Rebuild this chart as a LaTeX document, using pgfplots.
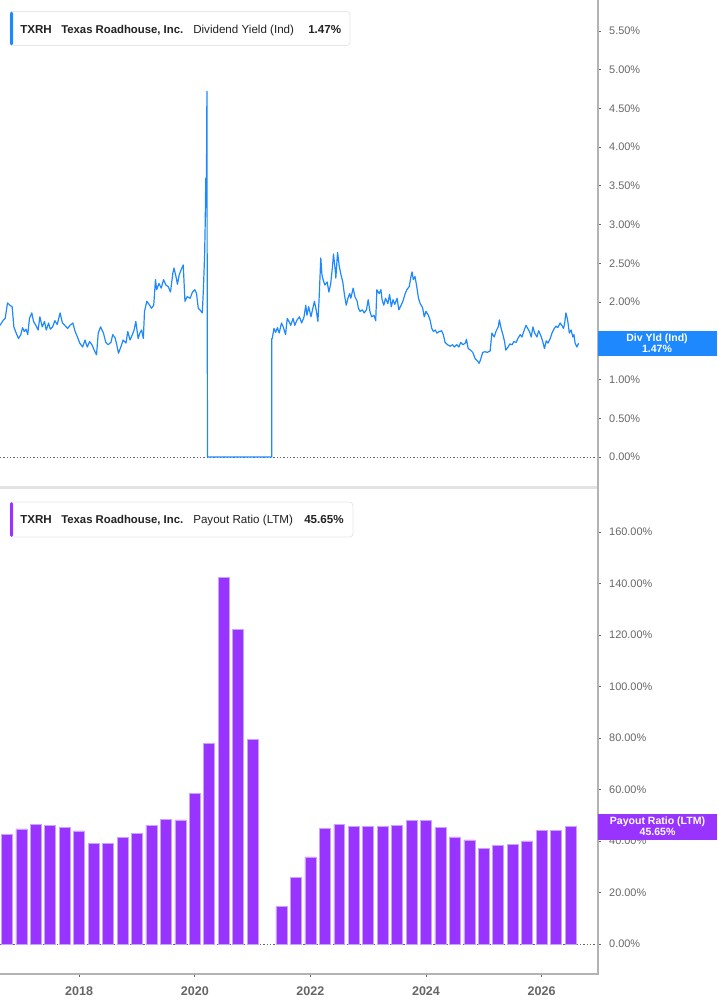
\documentclass[border=0pt]{standalone}
\usepackage{pgfplots}
\pgfplotsset{compat=1.18}
\usepackage{fontspec}
\setmainfont{Liberation Sans}

\definecolor{lineblue}{HTML}{1E88FF}
\definecolor{barpurple}{HTML}{9933FF}
\definecolor{baredge}{HTML}{C9A3FF}
\definecolor{axgrey}{HTML}{B3B3B3}
\definecolor{lblgrey}{HTML}{666666}
\definecolor{sepgrey}{HTML}{E3E3E3}
\definecolor{boxgrey}{HTML}{E6E6E6}
\definecolor{txt}{HTML}{222222}

\newcommand\tickfont{\fontsize{8.2}{9}\selectfont}
\newcommand\legfont{\fontsize{8.7}{10}\selectfont}
\newcommand\tagfont{\bfseries\fontsize{7.9}{8}\selectfont}

\tikzset{zerodots/.style={lblgrey, line width=0.7pt, dash pattern=on 0.9pt off 1.6pt}}

\pgfplotsset{
  panel/.style={
    scale only axis, width=448.5pt,
    xmin=2016.63, xmax=2026.976,
    axis line style={draw=none},
    tick align=outside, major tick length=2.2pt,
    tick style={lblgrey, line width=0.6pt},
    ytick pos=right, yticklabel pos=right,
    yticklabel style={font=\tickfont, text=lblgrey, inner sep=0pt, xshift=6pt},
    /pgf/number format/assume math mode=true,
  },
}

\begin{document}
\begin{tikzpicture}[x=0.75pt, y=0.75pt]
\useasboundingbox (0,0) rectangle (717,1005);

% top panel: dividend yield
\begin{axis}[panel,
  at={(0pt,753.75pt)}, anchor=north west, height=365.25pt,
  ymin=-0.387, ymax=5.9,
  xtick=\empty,
  ytick={0,0.5,1,1.5,2,2.5,3,3.5,4,4.5,5,5.5},
  yticklabel={\pgfmathprintnumber[fixed,fixed zerofill,precision=2]{\tick}\%},
]
\draw[zerodots] (axis cs:2016.63,0) -- (axis cs:2026.976,0);
\addplot[lineblue, line width=0.9pt, line join=round] coordinates {
(2016.63,1.70)(2016.69,1.77)(2016.72,1.79)(2016.76,1.99)(2016.80,1.96)(2016.84,1.94)(2016.87,1.68)(2016.91,1.60)
(2016.95,1.53)(2016.99,1.58)(2017.02,1.67)(2017.05,1.62)(2017.08,1.65)(2017.11,1.58)(2017.14,1.79)(2017.18,1.86)
(2017.21,1.75)(2017.25,1.70)(2017.29,1.64)(2017.32,1.81)(2017.36,1.68)(2017.40,1.75)(2017.43,1.64)(2017.47,1.73)
(2017.50,1.65)(2017.54,1.68)(2017.58,1.76)(2017.62,1.71)(2017.67,1.86)(2017.71,1.73)(2017.75,1.70)(2017.80,1.66)
(2017.84,1.70)(2017.89,1.73)(2017.93,1.62)(2017.97,1.55)(2018.01,1.47)(2018.06,1.42)(2018.10,1.51)(2018.14,1.42)
(2018.18,1.49)(2018.22,1.45)(2018.26,1.38)(2018.30,1.32)(2018.33,1.60)(2018.37,1.68)(2018.42,1.60)(2018.46,1.48)
(2018.50,1.45)(2018.55,1.48)(2018.58,1.58)(2018.62,1.54)(2018.65,1.45)(2018.68,1.34)(2018.72,1.42)(2018.76,1.51)
(2018.81,1.47)(2018.84,1.62)(2018.88,1.51)(2018.92,1.58)(2018.95,1.64)(2018.98,1.75)(2019.02,1.53)(2019.05,1.60)
(2019.08,1.64)(2019.11,1.53)(2019.13,1.88)(2019.17,2.01)(2019.21,1.97)(2019.25,1.92)(2019.29,1.96)(2019.32,2.29)
(2019.34,2.16)(2019.38,2.24)(2019.42,2.18)(2019.46,2.29)(2019.50,2.22)(2019.54,2.20)(2019.58,2.13)(2019.62,2.37)
(2019.64,2.44)(2019.68,2.31)(2019.70,2.23)(2019.73,2.35)(2019.76,2.41)(2019.80,2.48)(2019.83,2.01)(2019.87,2.07)
(2019.92,2.05)(2019.96,2.13)(2020.00,2.16)(2020.03,2.11)(2020.06,1.92)(2020.10,1.89)(2020.13,1.86)(2020.15,2.18)
(2020.17,2.61)(2020.18,3.00)(2020.19,3.60)(2020.20,3.30)(2020.21,4.72)(2020.215,2.00)(2020.22,0)(2021.33,0)
(2021.33,1.53)(2021.34,1.53)(2021.37,1.66)(2021.40,1.61)(2021.43,1.67)(2021.46,1.60)(2021.50,1.73)(2021.53,1.68)
(2021.57,1.58)(2021.60,1.79)(2021.63,1.75)(2021.66,1.70)(2021.70,1.79)(2021.73,1.70)(2021.77,1.77)(2021.81,1.81)
(2021.85,1.73)(2021.89,1.81)(2021.92,1.96)(2021.94,1.83)(2021.97,1.94)(2022.01,1.81)(2022.03,1.88)(2022.07,2.01)
(2022.10,1.90)(2022.13,1.75)(2022.15,2.03)(2022.18,2.57)(2022.20,2.35)(2022.22,2.29)(2022.25,2.22)(2022.29,2.26)
(2022.32,2.13)(2022.35,2.23)(2022.38,2.44)(2022.40,2.62)(2022.43,2.41)(2022.44,2.31)(2022.47,2.64)(2022.50,2.46)
(2022.53,2.35)(2022.56,2.26)(2022.59,2.09)(2022.62,1.96)(2022.65,2.05)(2022.68,2.11)(2022.70,2.05)(2022.74,2.18)
(2022.77,2.07)(2022.81,2.01)(2022.83,1.92)(2022.86,1.88)(2022.90,1.90)(2022.93,1.86)(2022.97,1.90)(2023.00,2.03)
(2023.03,1.88)(2023.06,1.81)(2023.10,1.83)(2023.13,1.76)(2023.15,2.16)(2023.19,2.11)(2023.22,2.16)(2023.24,2.03)
(2023.27,1.96)(2023.30,2.05)(2023.34,1.98)(2023.37,2.10)(2023.40,1.94)(2023.43,2.03)(2023.46,1.97)(2023.50,2.05)
(2023.53,1.90)(2023.57,1.96)(2023.60,2.01)(2023.64,2.11)(2023.67,2.16)(2023.71,2.20)(2023.74,2.33)(2023.76,2.39)
(2023.78,2.29)(2023.81,2.33)(2023.84,2.20)(2023.87,2.05)(2023.90,1.98)(2023.94,1.93)(2023.97,1.81)(2024.00,1.88)
(2024.04,1.83)(2024.07,1.77)(2024.10,1.66)(2024.13,1.62)(2024.16,1.64)(2024.19,1.60)(2024.23,1.62)(2024.27,1.63)
(2024.30,1.58)(2024.33,1.48)(2024.37,1.45)(2024.42,1.43)(2024.46,1.45)(2024.49,1.42)(2024.53,1.45)(2024.57,1.42)
(2024.60,1.48)(2024.64,1.45)(2024.68,1.47)(2024.70,1.52)(2024.73,1.40)(2024.77,1.38)(2024.81,1.35)(2024.85,1.27)
(2024.89,1.24)(2024.92,1.21)(2024.95,1.27)(2024.98,1.35)(2025.02,1.36)(2025.06,1.35)(2025.11,1.37)(2025.14,1.60)
(2025.18,1.55)(2025.21,1.62)(2025.25,1.68)(2025.27,1.77)(2025.30,1.66)(2025.33,1.58)(2025.36,1.49)(2025.38,1.38)
(2025.42,1.42)(2025.45,1.46)(2025.49,1.45)(2025.52,1.49)(2025.56,1.48)(2025.59,1.53)(2025.63,1.58)(2025.66,1.55)
(2025.70,1.64)(2025.73,1.70)(2025.76,1.66)(2025.79,1.62)(2025.82,1.55)(2025.85,1.68)(2025.88,1.60)(2025.92,1.55)
(2025.95,1.63)(2025.99,1.56)(2026.02,1.49)(2026.05,1.40)(2026.08,1.50)(2026.11,1.47)(2026.15,1.53)(2026.18,1.60)
(2026.22,1.66)(2026.25,1.69)(2026.28,1.67)(2026.32,1.73)(2026.35,1.70)(2026.38,1.66)(2026.40,1.73)(2026.42,1.86)
(2026.45,1.77)(2026.48,1.60)(2026.51,1.64)(2026.54,1.55)(2026.56,1.58)(2026.58,1.47)(2026.61,1.42)(2026.64,1.47)
};
\end{axis}

% bottom panel: payout ratio
\begin{axis}[panel,
  at={(0pt,387pt)}, anchor=north west, height=363.75pt,
  ymin=-11.65, ymax=176.7,
  xtick={2018,2020,2022,2024,2026},
  xticklabels={2018,2020,2022,2024,2026},
  xtick pos=bottom,
  xticklabel style={font=\bfseries\fontsize{9.4}{10}\selectfont, text=lblgrey, inner sep=0pt, yshift=-7pt},
  ytick={0,20,40,60,80,100,120,140,160},
  yticklabel={\pgfmathprintnumber[fixed,fixed zerofill,precision=2]{\tick}\%},
]
\draw[zerodots] (axis cs:2016.63,0) -- (axis cs:2026.976,0);
\addplot[ybar, bar width=0.19, fill=barpurple, draw=baredge, line width=0.45pt] coordinates {
(2016.75,42.6)(2017.00,44.7)(2017.25,46.6)(2017.50,46.2)(2017.75,45.4)(2018.00,43.9)(2018.25,39.1)(2018.50,39.2)
(2018.75,41.5)(2019.00,43.1)(2019.25,46.2)(2019.50,48.4)(2019.75,48.2)(2020.00,58.4)(2020.25,77.9)(2020.50,142.3)
(2020.75,122.3)(2021.00,79.6)(2021.50,14.5)(2021.75,26.0)(2022.00,33.8)(2022.25,44.8)(2022.50,46.5)(2022.75,45.7)
(2023.00,45.7)(2023.25,45.6)(2023.50,46.2)(2023.75,48.0)(2024.00,48.0)(2024.25,45.2)(2024.50,41.6)(2024.75,40.4)
(2025.00,37.2)(2025.25,38.2)(2025.50,38.8)(2025.75,40.0)(2026.00,44.1)(2026.25,44.1)(2026.50,45.65)
};
\end{axis}

% frame lines
\draw[sepgrey, line width=1.8pt] (0,1005-487.5) -- (597,1005-487.5);
\draw[axgrey, line width=1.1pt] (598,1005) -- (598,1005-974) -- (0,1005-974);

% legend boxes
\draw[boxgrey, line width=0.6pt, fill=white, rounded corners=2.5pt] (10,1005-11.5) rectangle (350,1005-45.5);
\fill[lineblue, rounded corners=1.2pt] (10,1005-11.5) rectangle (13,1005-45.5);
\node[anchor=base west, inner sep=0, font=\bfseries\legfont, text=txt] at (20,1005-33.5) {TXRH};
\node[anchor=base west, inner sep=0, font=\bfseries\fontsize{8.5}{10}\selectfont, text=txt] at (61,1005-33.5) {Texas Roadhouse, Inc.};
\node[anchor=base west, inner sep=0, font=\legfont, text=txt] at (193,1005-33.5) {Dividend Yield (Ind)};
\node[anchor=base west, inner sep=0, font=\bfseries\legfont, text=txt] at (308,1005-33.5) {1.47\%};

\draw[boxgrey, line width=0.6pt, fill=white, rounded corners=2.5pt] (10,1005-502) rectangle (353,1005-537);
\fill[barpurple, rounded corners=1.2pt] (10,1005-502) rectangle (13,1005-537);
\node[anchor=base west, inner sep=0, font=\bfseries\legfont, text=txt] at (20,1005-524) {TXRH};
\node[anchor=base west, inner sep=0, font=\bfseries\fontsize{8.5}{10}\selectfont, text=txt] at (61,1005-524) {Texas Roadhouse, Inc.};
\node[anchor=base west, inner sep=0, font=\legfont, text=txt] at (193,1005-524) {Payout Ratio (LTM)};
\node[anchor=base west, inner sep=0, font=\bfseries\legfont, text=txt] at (304,1005-524) {45.65\%};

% last-value tags on the right axis
\fill[lineblue] (598,1005-330.7) rectangle (717,1005-356);
\node[font=\tagfont, text=white, inner sep=0] at (657,1005-338.7) {Div Yld (Ind)};
\node[font=\tagfont, text=white, inner sep=0] at (657,1005-349.3) {1.47\%};

\fill[barpurple] (598,1005-814.3) rectangle (717,1005-840);
\node[font=\tagfont, text=white, inner sep=0] at (657.5,1005-821.3) {Payout Ratio (LTM)};
\node[font=\tagfont, text=white, inner sep=0] at (657.5,1005-832.3) {45.65\%};
\end{tikzpicture}
\end{document}
